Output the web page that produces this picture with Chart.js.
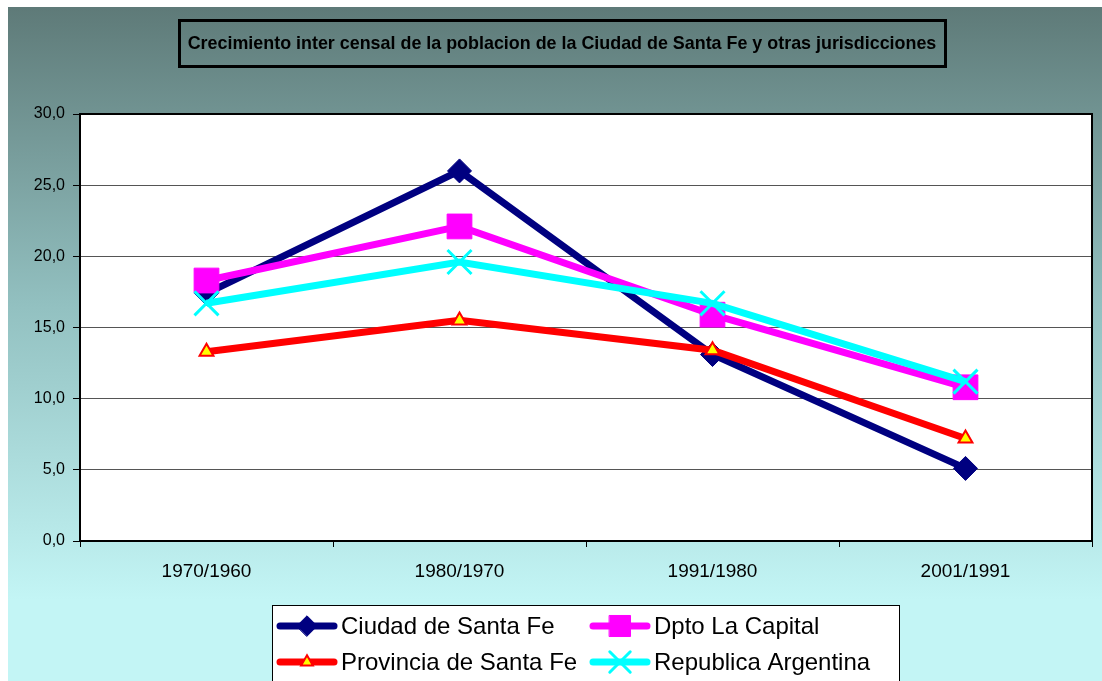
<!DOCTYPE html>
<html lang="es">
<head>
<meta charset="UTF-8">
<title>Crecimiento inter censal</title>
<script src="https://cdn.jsdelivr.net/npm/chart.js"></script>
<style>
    html, body { margin: 0; padding: 0; background: #fff; }
    #wrap { position: relative; width: 1102px; height: 681px; }
</style>
</head>
<body>
<div id="wrap"><canvas id="chart" width="1102" height="681"></canvas></div>
<script>
const titleText = 'Crecimiento inter censal de la poblacion de la Ciudad de Santa Fe y otras jurisdicciones';
const categories = ['1970/1960', '1980/1970', '1991/1980', '2001/1991'];
const ciudad = [17.4, 26.0, 13.1, 5.1];
const dpto = [18.3, 22.1, 15.9, 10.8];
const provincia = [13.3, 15.5, 13.4, 7.2];
const republica = [16.7, 19.6, 16.7, 11.2];
const seriesNames = ['Ciudad de Santa Fe', 'Dpto La Capital', 'Provincia de Santa Fe', 'Republica Argentina'];

const FONT = "'Liberation Sans', Arial, sans-serif";

// fondo degradado, area blanca y caja del titulo
const backgroundPlugin = {
    id: 'background',
    beforeDraw(chart) {
        const ctx = chart.ctx;
        const a = chart.chartArea;
        ctx.save();
        ctx.fillStyle = '#fff';
        ctx.fillRect(0, 0, chart.width, chart.height);
        const g = ctx.createLinearGradient(0, 7, 0, 600);
        g.addColorStop(0, '#5e7a78');
        g.addColorStop(0.5, '#92c0c0');
        g.addColorStop(1, '#c3f5f5');
        ctx.fillStyle = g;
        ctx.fillRect(8, 7, chart.width - 8, chart.height - 7);
        ctx.fillStyle = '#fff';
        ctx.fillRect(a.left, a.top, a.right - a.left, a.bottom - a.top);

        ctx.lineWidth = 3;
        ctx.strokeStyle = '#000';
        ctx.strokeRect(179.5, 20.5, 766, 46);
        ctx.fillStyle = '#000';
        let size = 16;
        ctx.font = 'bold ' + size + 'px ' + FONT;
        size = size * 749 / ctx.measureText(titleText).width;
        ctx.font = 'bold ' + size.toFixed(2) + 'px ' + FONT;
        ctx.textAlign = 'center';
        ctx.textBaseline = 'middle';
        ctx.fillText(titleText, 562, 44);
        ctx.restore();
    },
    beforeDatasetsDraw(chart) {
        const ctx = chart.ctx;
        const a = chart.chartArea;
        ctx.save();
        ctx.lineWidth = 2;
        ctx.strokeStyle = '#000';
        ctx.strokeRect(a.left, a.top, a.right - a.left, a.bottom - a.top);
        ctx.restore();
    }
};

// leyenda en dos columnas con caja blanca
const legendPlugin = {
    id: 'boxLegend',
    afterDraw(chart) {
        const ctx = chart.ctx;
        ctx.save();
        ctx.fillStyle = '#fff';
        ctx.fillRect(272, 605, 627, 90);
        ctx.lineWidth = 1;
        ctx.strokeStyle = '#000';
        ctx.strokeRect(272.5, 605.5, 627, 90);
        const cols = [277, 590];
        const rows = [626, 662];
        chart.data.datasets.forEach((ds, i) => {
            const x = cols[i % 2];
            const y = rows[Math.floor(i / 2)];
            ctx.strokeStyle = ds.borderColor;
            ctx.lineWidth = ds.borderWidth;
            ctx.lineCap = 'round';
            ctx.beginPath();
            ctx.moveTo(x + 3, y);
            ctx.lineTo(x + 57, y);
            ctx.stroke();
            ctx.fillStyle = ds.pointBackgroundColor;
            ctx.strokeStyle = ds.pointBorderColor;
            ctx.lineWidth = ds.pointBorderWidth;
            Chart.helpers.drawPoint(ctx, {
                pointStyle: ds.pointStyle,
                radius: ds.pointRadius * 0.85,
                rotation: 0,
                borderWidth: ds.pointBorderWidth
            }, x + 30, y);
            ctx.fillStyle = '#000';
            ctx.font = '24px ' + FONT;
            ctx.textAlign = 'left';
            ctx.textBaseline = 'middle';
            ctx.fillText(ds.label, x + 64, y + 1);
        });
        ctx.restore();
    }
};

new Chart(document.getElementById('chart'), {
    type: 'line',
    data: {
        labels: categories,
        datasets: [
            {
                label: seriesNames[0],
                data: ciudad,
                borderColor: '#000080',
                borderWidth: 7,
                pointStyle: 'rectRot',
                pointRadius: 12,
                pointBackgroundColor: '#000080',
                pointBorderColor: '#000080',
                pointBorderWidth: 1,
                order: 3
            },
            {
                label: seriesNames[1],
                data: dpto,
                borderColor: '#ff00ff',
                borderWidth: 7,
                pointStyle: 'rect',
                pointRadius: 17.5,
                pointBackgroundColor: '#ff00ff',
                pointBorderColor: '#ff00ff',
                pointBorderWidth: 1,
                order: 2
            },
            {
                label: seriesNames[2],
                data: provincia,
                borderColor: '#ff0000',
                borderWidth: 7,
                pointStyle: 'triangle',
                pointRadius: 8,
                pointBackgroundColor: '#ffff00',
                pointBorderColor: '#ff0000',
                pointBorderWidth: 2,
                order: 1
            },
            {
                label: seriesNames[3],
                data: republica,
                borderColor: '#00ffff',
                borderWidth: 7,
                pointStyle: 'crossRot',
                pointRadius: 17,
                pointBackgroundColor: '#00ffff',
                pointBorderColor: '#00ffff',
                pointBorderWidth: 3,
                order: 0
            }
        ]
    },
    options: {
        responsive: false,
        animation: false,
        devicePixelRatio: 1,
        tension: 0,
        layout: {
            autoPadding: false,
            padding: { top: 114, right: 10, left: 0, bottom: 0 }
        },
        plugins: {
            legend: { display: false },
            title: { display: false },
            tooltip: { enabled: false }
        },
        scales: {
            x: {
                offset: true,
                grid: {
                    offset: true,
                    drawOnChartArea: false,
                    drawTicks: true,
                    tickLength: 6,
                    tickColor: '#000',
                    tickWidth: 1
                },
                border: { display: false },
                ticks: {
                    color: '#000',
                    padding: 13,
                    font: { family: FONT, size: 19 },
                    maxRotation: 0
                },
                afterFit(scale) {
                    scale.height = 140;
                    scale.paddingLeft = 0;
                    scale.paddingRight = 0;
                }
            },
            y: {
                min: 0,
                max: 30,
                grid: {
                    color: '#555',
                    lineWidth: 1,
                    tickLength: 7,
                    tickColor: '#000'
                },
                border: { display: false },
                ticks: {
                    stepSize: 5,
                    color: '#000',
                    padding: 8,
                    font: { family: FONT, size: 16 },
                    callback: v => v.toFixed(1).replace('.', ',')
                },
                afterFit(scale) {
                    scale.width = 80;
                    scale.paddingTop = 0;
                    scale.paddingBottom = 0;
                }
            }
        }
    },
    plugins: [backgroundPlugin, legendPlugin]
});
</script>
</body>
</html>
